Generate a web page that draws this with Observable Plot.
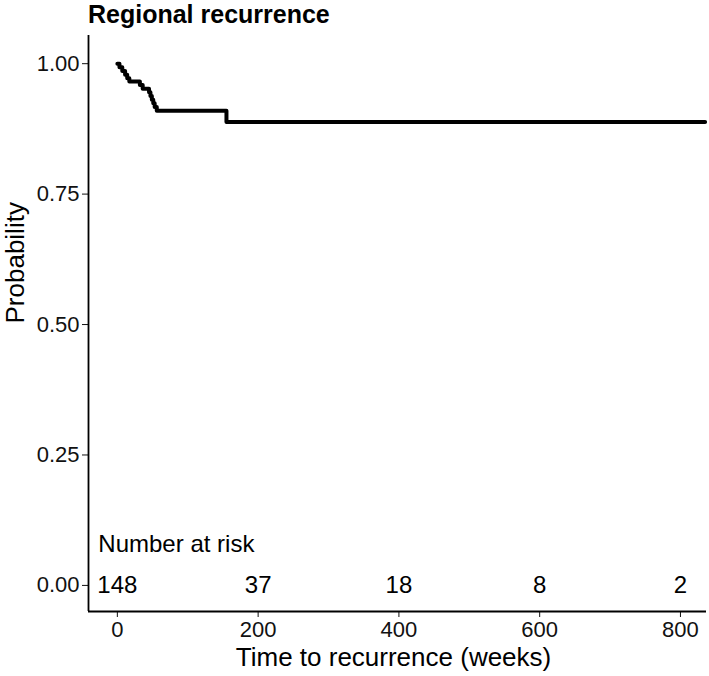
<!DOCTYPE html>
<html>
<head>
<meta charset="utf-8">
<script src="https://cdn.jsdelivr.net/npm/d3@7"></script>
<script src="https://cdn.jsdelivr.net/npm/@observablehq/plot@0.6"></script>
<style>
  html, body { margin: 0; padding: 0; background: #fff; }
  #wrap { width: 709px; height: 676px; position: relative; font-family: "Liberation Sans", Arial, sans-serif; }
  #title { position: absolute; left: 88px; top: 0px; font-size: 25px; font-weight: bold; color: #000; line-height: 28px; white-space: nowrap; }
  #chart { position: absolute; left: 0; top: 30px; }
</style>
</head>
<body>
<div id="wrap">
  <div id="title">Regional recurrence</div>
  <div id="chart"></div>
</div>
<script>
// Kaplan-Meier step data (weeks, survival probability)
const times    = [0, 3, 7, 11, 14, 17, 32, 36, 45, 47, 49, 51, 53, 56, 155, 835];
const survival = [1.000, 0.993, 0.986, 0.979, 0.972, 0.966, 0.959, 0.952, 0.945, 0.938, 0.931, 0.924, 0.917, 0.910, 0.888, 0.888];

// Number at risk table
const riskTimes  = [0, 200, 400, 600, 800];
const riskCounts = ["148", "37", "18", "8", "2"];

// Axis ticks
const xTicks = [0, 200, 400, 600, 800];
const yTicks = [0, 0.25, 0.5, 0.75, 1.0];

const km = times.map((t, i) => ({t, s: survival[i]}));
const risk = riskTimes.map((t, i) => ({t, n: riskCounts[i]}));

const xDomain = [-41, 837];
const yDomain = [-0.05, 1.054];

const plot = Plot.plot({
  width: 709,
  height: 646,
  marginTop: 5,
  marginBottom: 65,
  marginLeft: 88,
  marginRight: 3,
  style: {fontFamily: "Liberation Sans, Arial, sans-serif", fontSize: "22px", color: "#111", background: "#fff"},
  x: {domain: xDomain, ticks: xTicks, tickSize: 6, tickPadding: 4, label: null, tickFormat: d3.format("d")},
  y: {domain: yDomain, ticks: yTicks, tickSize: 6, tickPadding: 3, label: null, tickFormat: d3.format(".2f")},
  marks: [
    Plot.ruleX([xDomain[0]], {stroke: "#000", strokeWidth: 1.8}),
    Plot.ruleY([yDomain[0]], {stroke: "#000", strokeWidth: 1.8}),
    Plot.line(km, {x: "t", y: "s", curve: "step-after", stroke: "#000", strokeWidth: 4, strokeLinecap: "round", strokeLinejoin: "round"}),
    Plot.text(risk, {x: "t", y: 0, text: "n", fontSize: 24, fill: "#000"}),
    Plot.text(["Number at risk"], {x: -27, y: 0.0795, textAnchor: "start", fontSize: 24, fill: "#000"}),
    Plot.text(["Time to recurrence (weeks)"], {frameAnchor: "bottom", dy: 54, dx: -4, fontSize: 26, fill: "#000"}),
    Plot.text(["Probability"], {frameAnchor: "left", dx: -73, rotate: -90, fontSize: 26, fill: "#000"})
  ]
});
// enlarge axis tick labels
d3.select(plot).selectAll('g[aria-label$="tick label"]').attr("font-size", 22).style("font-size", "22px");
d3.select(plot).selectAll('g[aria-label$="tick label"] text').style("font-size", "22px");
document.getElementById("chart").appendChild(plot);
</script>
</body>
</html>
